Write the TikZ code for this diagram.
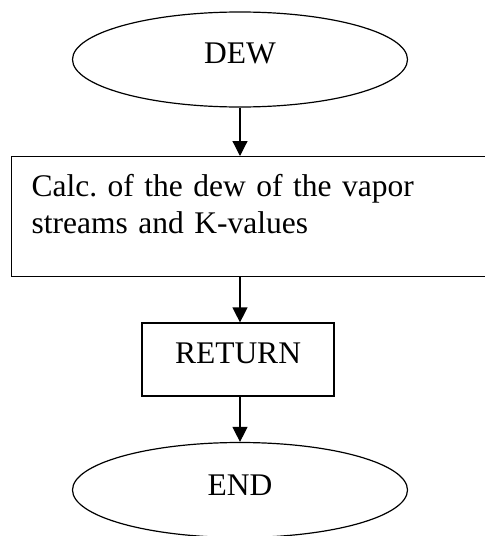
\documentclass[tikz,border=0pt]{standalone}
\usepackage{fontspec}
\setmainfont{Liberation Serif}
\usetikzlibrary{shapes.geometric,arrows.meta}
\frenchspacing
\begin{document}
\begin{tikzpicture}[x=1pt, y=-1pt,
    font=\fontsize{31.5}{37}\selectfont,
    every path/.style={line width=1.2pt},
    terminal/.style={draw, ellipse, inner sep=0pt, minimum width=335pt, minimum height=95pt},
    procbox/.style={draw, rectangle, inner sep=0pt},
    arr/.style={-{Triangle[length=15pt,width=15pt]}}]
    \useasboundingbox (0,0) rectangle (485,536);
    \node[terminal, text depth=12pt] (dew) at (240,59.5) {DEW};
    \node[procbox, anchor=north west, inner xsep=20pt, text width=440pt, align=left,
          text height=40pt, text depth=80pt] (calc) at (11,156)
          {Calc. of the dew of the vapor\\streams and K-values};
    \node[procbox, minimum width=192pt, minimum height=73pt, text depth=12pt] (ret) at (238,359.5) {RETURN};
    \node[terminal, text depth=10pt] (end) at (240,490) {END};
    \draw[arr] (dew.south) -- (dew.south |- calc.north);
    \draw[arr] (dew.south |- calc.south) -- (dew.south |- ret.north);
    \draw[arr] (dew.south |- ret.south) -- (end.north);
\end{tikzpicture}
\end{document}
